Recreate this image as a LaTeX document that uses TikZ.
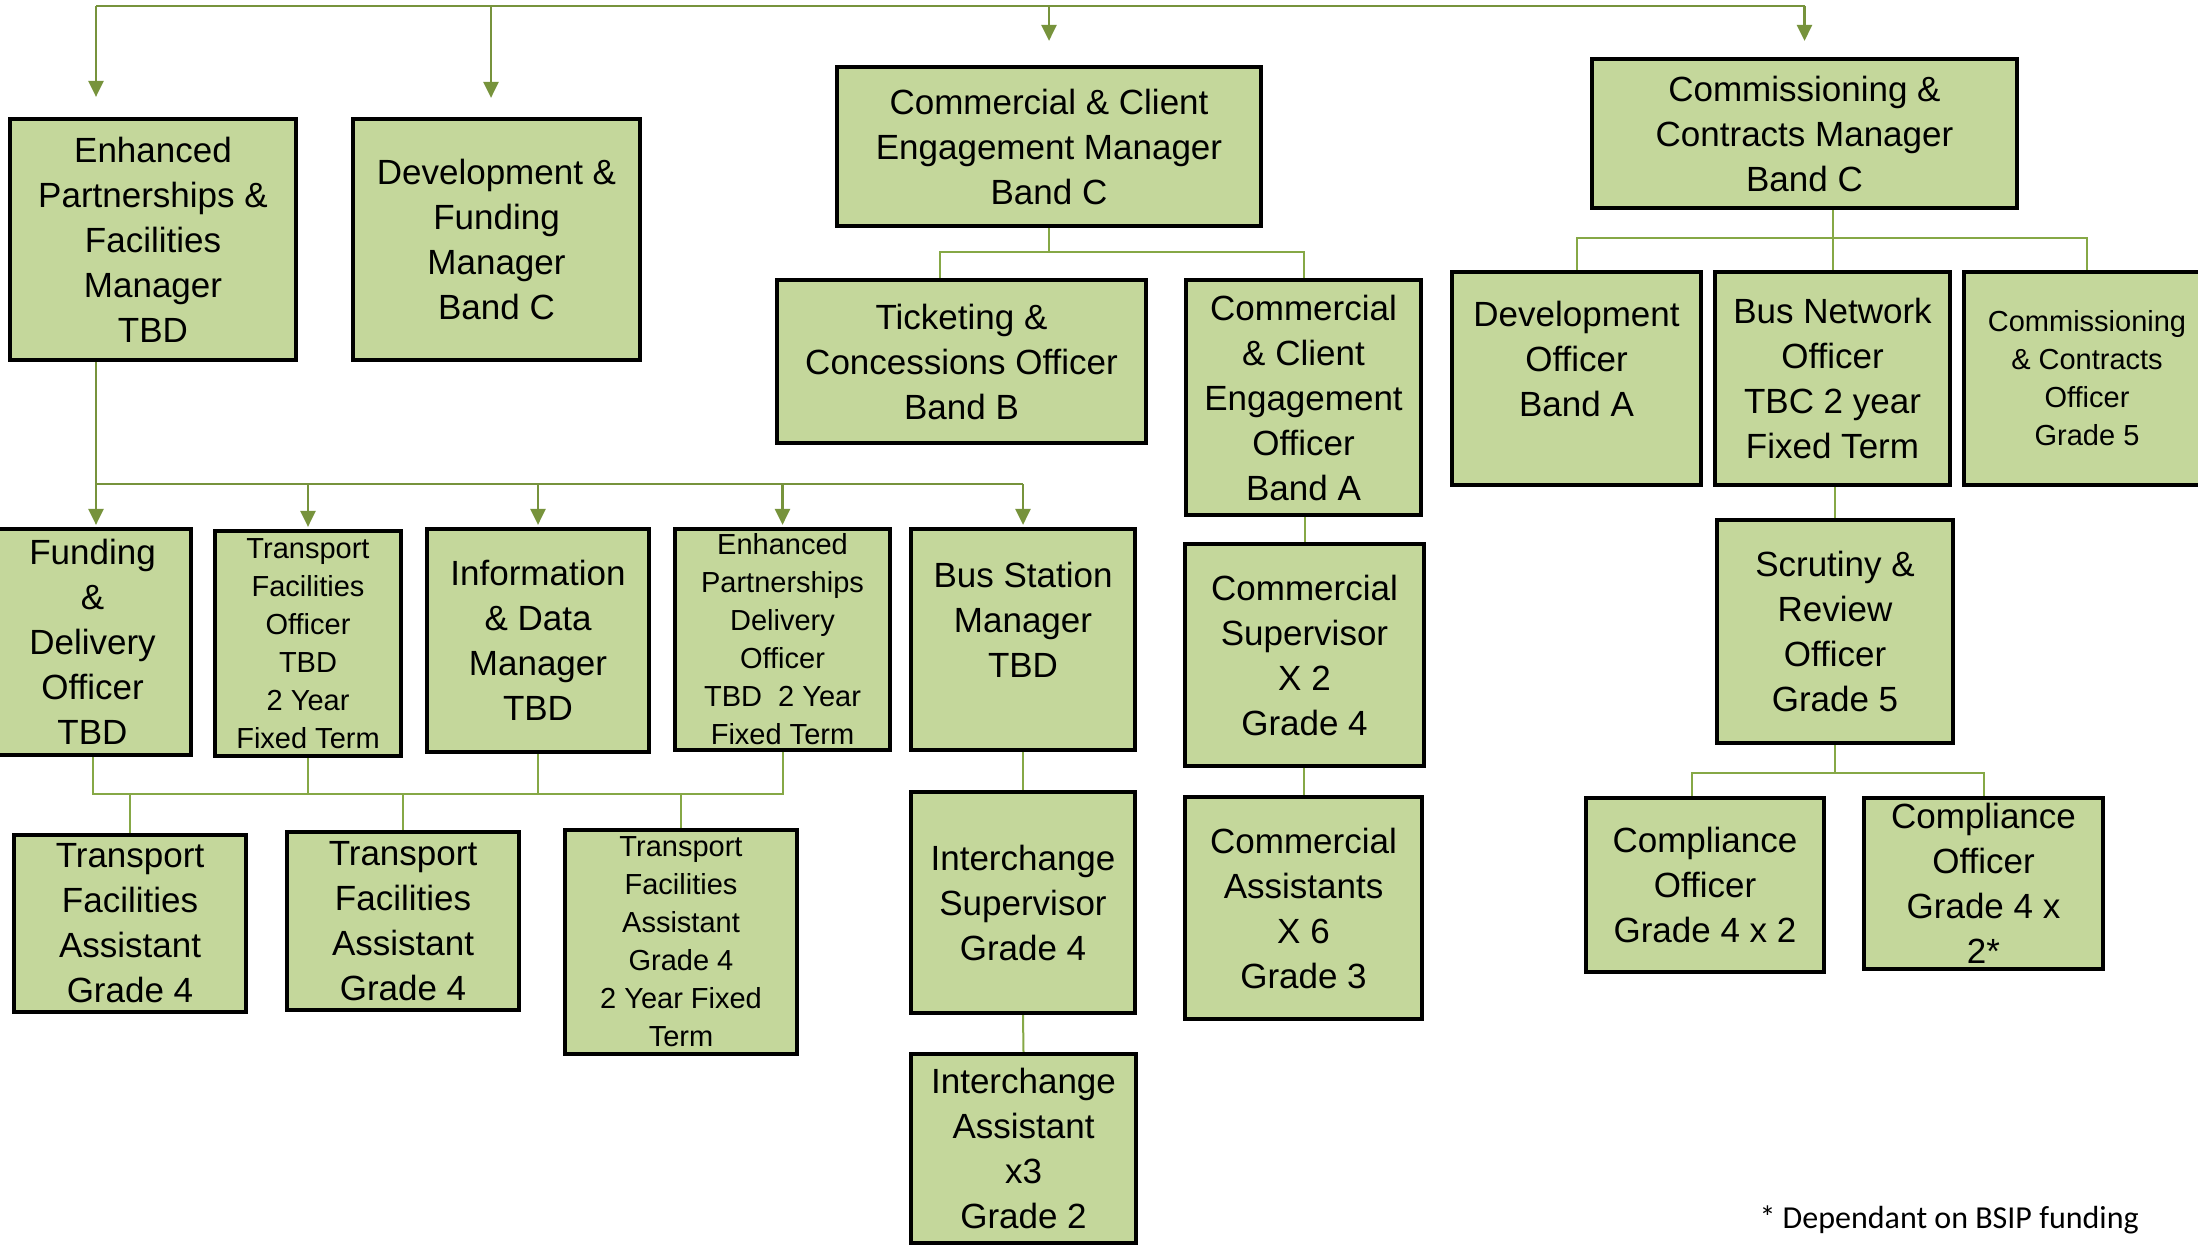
\documentclass[tikz,border=0pt]{standalone}
\usepackage{fontspec}
\setmainfont{Liberation Sans}
\newfontfamily\footf{Carlito}
\usetikzlibrary{arrows.meta,calc}
\definecolor{boxfill}{HTML}{C4D79B}
\definecolor{arrgreen}{HTML}{77933C}
\definecolor{lngreen}{HTML}{86A846}
\tikzset{
  org/.style={draw=black, line width=4.2pt, fill=boxfill, align=center, inner sep=0pt,
    font=\fontsize{35}{45}\selectfont},
  orgsmall/.style={org, font=\fontsize{29}{38}\selectfont},
  bsize/.style 2 args={minimum width=#1pt, minimum height=#2pt},
  busline/.style={draw=arrgreen, line width=2.6pt},
  arrline/.style={draw=arrgreen, line width=2.6pt, -{Triangle[length=16pt,width=15pt]}},
  conn/.style={draw=lngreen, line width=2pt},
}
\begin{document}
\begin{tikzpicture}[x=1pt,y=-1pt]
\useasboundingbox (0,0) rectangle (2198,1247);
\clip (0,0) rectangle (2198,1247);
\fill[white] (0,0) rectangle (2198,1247);

% top row
\node[org, bsize={286}{241}] (enh) at (153,239.5) {Enhanced\\Partnerships \&\\Facilities\\Manager\\TBD};
\node[org, bsize={287}{241}] (dev) at (496.5,239.5) {Development \&\\Funding\\Manager\\Band C};
\node[org, bsize={424}{159}] (ccem) at (1049,146.5) {Commercial \& Client\\Engagement Manager\\Band C};
\node[org, bsize={425}{149}] (ccm) at (1804.5,133.5) {Commissioning \&\\Contracts Manager\\Band C};

% second row right
\node[org, bsize={369}{163}] (tick) at (961.5,361.5) {Ticketing \&\\Concessions Officer\\Band B};
\node[org, bsize={235}{235}] (cceo) at (1303.5,397.5) {Commercial\\\& Client\\Engagement\\Officer\\Band A};
\node[org, bsize={249}{213}] (devo) at (1576.5,378.5) {Development\\Officer\\Band A\\[-20pt]\strut};
\node[org, bsize={235}{213}] (bno) at (1832.5,378.5) {Bus Network\\Officer\\TBC 2 year\\Fixed Term};
\node[orgsmall, bsize={246}{213}] (cco) at (2087,378.5) {Commissioning\\\& Contracts\\Officer\\Grade 5};

% third row left
\node[org, bsize={197}{226}] (fund) at (92.5,642) {Funding\\\&\\Delivery\\Officer\\TBD};
\node[orgsmall, bsize={186}{225}] (tfo) at (308,643.5) {Transport\\Facilities\\Officer\\TBD\\2 Year\\Fixed Term};
\node[org, bsize={222}{223}] (idm) at (538,640.5) {Information\\\& Data\\Manager\\TBD};
\node[orgsmall, bsize={215}{221}] (epdo) at (782.5,639.5) {Enhanced\\Partnerships\\Delivery\\Officer\\TBD\ \ 2 Year\\Fixed Term};
\node[org, bsize={224}{221}] (bsm) at (1023,639.5) {Bus Station\\Manager\\TBD\\[-20pt]\strut};

% lower rows
\node[org, bsize={232}{177}] (tfa1) at (130,923.5) {Transport\\Facilities\\Assistant\\Grade 4};
\node[org, bsize={232}{178}] (tfa2) at (403,921) {Transport\\Facilities\\Assistant\\Grade 4};
\node[orgsmall, bsize={232}{224}] (tfa3) at (681,942) {Transport\\Facilities\\Assistant\\Grade 4\\2 Year Fixed\\Term};
\node[org, bsize={224}{221}] (is) at (1023,902.5) {Interchange\\Supervisor\\Grade 4};
\node[org, bsize={225}{189}] (ia) at (1023.5,1148.5) {Interchange\\Assistant\\x3\\Grade 2};
\node[org, bsize={239}{222}] (cs) at (1304.5,655) {Commercial\\Supervisor\\X 2\\Grade 4};
\node[org, bsize={237}{222}] (ca) at (1303.5,908) {Commercial\\Assistants\\X 6\\Grade 3};
\node[org, bsize={236}{223}] (scr) at (1835,631.5) {Scrutiny \&\\Review\\Officer\\Grade 5};
\node[org, bsize={238}{174}] (comp1) at (1705,885) {Compliance\\Officer\\Grade 4 x 2};
\node[org, bsize={239}{171}] (comp2) at (1983.5,883.5) {Compliance\\Officer\\Grade 4 x\\2*};

\node[anchor=base west, font=\footf\fontsize{32}{40}\selectfont] (note) at (1756,1228) {* Dependant on BSIP funding};

% helper coordinates
\coordinate (topL) at (0,6);
\coordinate (busA) at (0,484);
\coordinate (busB) at (0,794);
\coordinate (busC) at (0,252);
\coordinate (busD) at (0,238);
\coordinate (busE) at (0,773);
\coordinate (enhx) at (96,0);
\coordinate (devx) at (491,0);
\coordinate (tickx) at (940,0);
\coordinate (c1x) at (1692,0);

% top bus with arrows
\draw[busline] (enhx |- topL) -- (ccm.north |- topL);
\draw[arrline, shorten >=20pt] (enhx |- topL) -- (enhx |- enh.north);
\draw[arrline, shorten >=19pt] (devx |- topL) -- (devx |- dev.north);
\draw[arrline, shorten >=24pt] (ccem.north |- topL) -- (ccem.north);
\draw[arrline, shorten >=16pt] (ccm.north |- topL) -- (ccm.north);

% enhanced -> officers
\draw[busline] (enhx |- enh.south) -- (enhx |- busA) -- (bsm.north |- busA);
\draw[arrline, shorten >=2pt] (enhx |- busA) -- (enhx |- fund.north);
\draw[arrline, shorten >=2pt] (tfo.north |- busA) -- (tfo.north);
\draw[arrline, shorten >=2pt] (idm.north |- busA) -- (idm.north);
\draw[arrline, shorten >=2pt] (epdo.north |- busA) -- (epdo.north);
\draw[arrline, shorten >=2pt] (bsm.north |- busA) -- (bsm.north);

% officers -> assistants
\draw[conn] (fund.south) -- (fund.south |- busB) -- (epdo.south |- busB) -- (epdo.south);
\draw[conn] (tfo.south) -- (tfo.south |- busB);
\draw[conn] (idm.south) -- (idm.south |- busB);
\draw[conn] (tfa1.north) -- (tfa1.north |- busB);
\draw[conn] (tfa2.north) -- (tfa2.north |- busB);
\draw[conn] (tfa3.north) -- (tfa3.north |- busB);

% bus station chain
\draw[conn] (bsm.south) -- (is.north);
\draw[conn] (is.south) -- (ia.north);

% commercial & client
\draw[conn] (ccem.south) -- (ccem.south |- busC);
\draw[conn] (tickx |- tick.north) -- (tickx |- busC) -- (cceo.north |- busC) -- (cceo.north);
\draw[conn] (cs.north |- cceo.south) -- (cs.north);
\draw[conn] (ca.north |- cs.south) -- (ca.north);

% commissioning
\draw[conn] (devo.north) -- (devo.north |- busD) -- (cco.north |- busD) -- (cco.north);
\draw[conn] (bno.north |- ccm.south) -- (bno.north);
\draw[conn] (scr.north |- bno.south) -- (scr.north);
\draw[conn] (scr.south) -- (scr.south |- busE);
\draw[conn] (c1x |- comp1.north) -- (c1x |- busE) -- (comp2.north |- busE) -- (comp2.north);
\end{tikzpicture}
\end{document}
